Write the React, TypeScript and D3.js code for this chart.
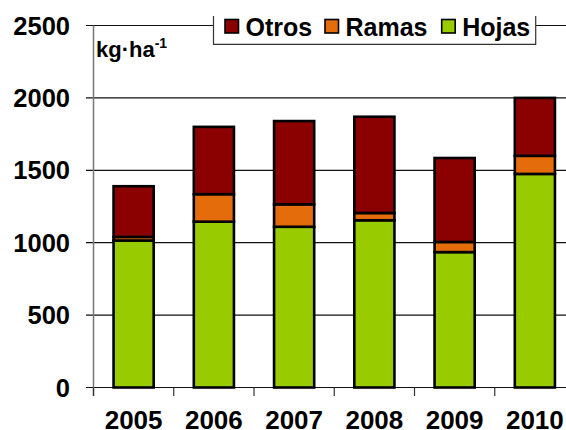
import React from "react";
import * as d3 from "d3";

const years = ["2005", "2006", "2007", "2008", "2009", "2010"];
const hojas = [1015, 1145, 1110, 1155, 935, 1475];
const ramas = [25, 190, 155, 50, 70, 125];
const otros = [350, 465, 575, 665, 580, 400];
const yTicks = [0, 500, 1000, 1500, 2000, 2500];

const seriesNames = ["Hojas", "Ramas", "Otros"];
const colors: Record<string, string> = {
  Hojas: "#99CC00",
  Ramas: "#E46C0A",
  Otros: "#8B0000",
};
const legendOrder = ["Otros", "Ramas", "Hojas"];

const W = 566;
const H = 430;
const left = 93.5;
const step = 80.25;

export default function App() {
  const rows = years.map((y, i) => ({
    year: y,
    Hojas: hojas[i],
    Ramas: ramas[i],
    Otros: otros[i],
  }));
  const stacked = d3.stack<any>().keys(seriesNames)(rows);

  const x = d3
    .scaleBand()
    .domain(years)
    .range([left, left + step * years.length])
    .paddingInner(0.5)
    .paddingOuter(0.25);
  const y = d3.scaleLinear().domain([0, 2500]).range([387.5, 25.5]);

  const font = "'Liberation Sans', Arial, sans-serif";
  const legendX = [225, 325, 441.7];

  return (
    <svg
      width={W}
      height={H}
      style={{ position: "absolute", left: 0, top: 0, background: "#fff" }}
      fontFamily={font}
      fontWeight="bold"
    >
      {/* gridlines + y ticks */}
      {yTicks.map((t) => (
        <g key={t}>
          <line x1={86} x2={W} y1={y(t)} y2={y(t)} stroke="#111" strokeWidth={1.2} />
          <text x={70} y={y(t) + 9} textAnchor="end" fontSize={25.5} fill="#000">
            {t}
          </text>
        </g>
      ))}
      {/* y axis */}
      <line x1={left} x2={left} y1={y(2500)} y2={396} stroke="#777" strokeWidth={1.5} />
      {/* x ticks */}
      {d3.range(years.length + 1).map((k) => (
        <line
          key={k}
          x1={left + k * step}
          x2={left + k * step}
          y1={y(0)}
          y2={396}
          stroke="#333"
          strokeWidth={1.2}
        />
      ))}
      {/* bars */}
      {stacked.map((s) => (
        <g key={s.key}>
          {s.map((d, i) => (
            <rect
              key={i}
              x={x(years[i])!}
              width={x.bandwidth()}
              y={y(d[1])}
              height={y(d[0]) - y(d[1])}
              fill={colors[s.key]}
              stroke="#000"
              strokeWidth={2.6}
            />
          ))}
        </g>
      ))}
      {/* x labels */}
      {years.map((yr) => (
        <text
          key={yr}
          x={x(yr)! + x.bandwidth() / 2}
          y={428.6}
          textAnchor="middle"
          fontSize={26}
          fill="#000"
        >
          {yr}
        </text>
      ))}
      {/* unit label */}
      <text x={96} y={57.3} fontSize={22} fill="#000">
        kg·ha
        <tspan fontSize={14} dy={-9}>
          -1
        </tspan>
      </text>
      {/* legend */}
      <rect x={213.5} y={0} width={322.2} height={44.3} fill="#fff" />
      <path d="M213.5,16V44.3H535.7V16" fill="none" stroke="#333" strokeWidth={1.2} />
      {legendOrder.map((name, i) => (
        <g key={name}>
          <rect
            x={legendX[i]}
            y={19.5}
            width={13.5}
            height={13.5}
            fill={colors[name]}
            stroke="#000"
            strokeWidth={1.6}
          />
          <text x={legendX[i] + 20.5} y={35.7} fontSize={25} fill="#000">
            {name}
          </text>
        </g>
      ))}
    </svg>
  );
}
